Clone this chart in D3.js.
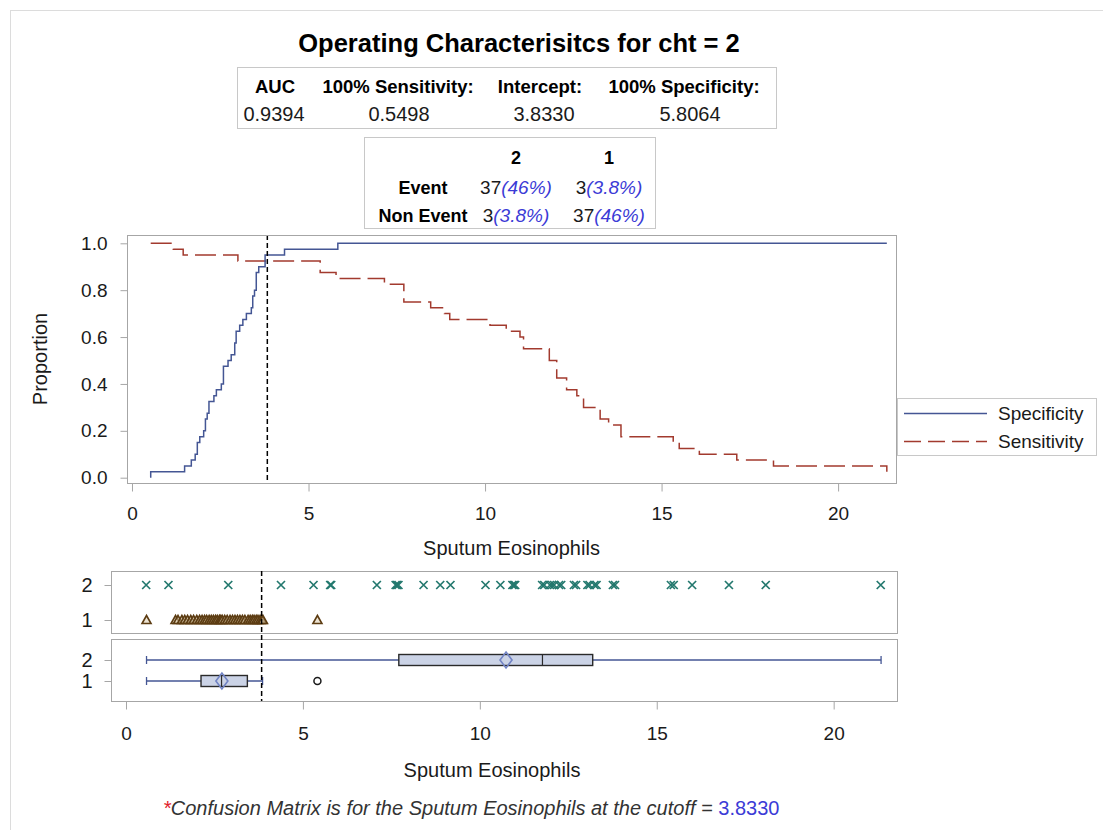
<!DOCTYPE html>
<html><head><meta charset="utf-8">
<script src="https://cdn.jsdelivr.net/npm/d3@7"></script>
<style>
body{margin:0;background:#fff}
svg{display:block}
text{font-family:"Liberation Sans",Arial,Helvetica,sans-serif}
</style>
</head><body>
<svg id="chart" width="1103" height="830"></svg>
<script>
// ---------------- data ----------------
const titleText = "Operating Characterisitcs for cht = 2";
const statHeaders = ["AUC", "100% Sensitivity:", "Intercept:", "100% Specificity:"];
const statValues = ["0.9394", "0.5498", "3.8330", "5.8064"];
const cmCols = ["2", "1"];
const cmRows = ["Event", "Non Event"];
const cmCounts = [[37, 3], [3, 37]];
const cmPct = [["46%", "3.8%"], ["3.8%", "46%"]];
const cutoff = 3.833;

// Specificity step curve (threshold, proportion)
const specX = [0.53, 0.53, 1.49, 1.68, 1.79, 1.85, 1.92, 2.03, 2.08, 2.13, 2.18, 2.32, 2.39, 2.53, 2.59, 2.72, 2.81, 2.91, 2.95, 3.05, 3.14, 3.24, 3.38, 3.42, 3.47, 3.52, 3.59, 3.77, 4.32, 5.83, 21.38];
const specY = [0, 0.025, 0.05, 0.075, 0.1, 0.15, 0.175, 0.2, 0.25, 0.275, 0.325, 0.35, 0.375, 0.4, 0.475, 0.5, 0.525, 0.575, 0.625, 0.65, 0.675, 0.7, 0.725, 0.775, 0.8, 0.875, 0.9, 0.95, 0.975, 1.0, 1.0];
// Sensitivity step curve
const sensX = [0.53, 1.17, 1.45, 3.0, 5.33, 5.78, 7.15, 7.7, 8.46, 8.85, 9.0, 10.14, 10.6, 10.99, 11.09, 11.82, 12.03, 12.31, 12.6, 12.79, 13.26, 13.5, 13.85, 15.33, 15.5, 16.07, 17.13, 18.17, 21.38, 21.38];
const sensY = [1.0, 0.975, 0.95, 0.925, 0.875, 0.85, 0.825, 0.75, 0.725, 0.7, 0.675, 0.65, 0.625, 0.6, 0.55, 0.5, 0.425, 0.375, 0.35, 0.3, 0.25, 0.225, 0.175, 0.15, 0.125, 0.1, 0.075, 0.05, 0.05, 0.025];

// Individual observations (Sputum Eosinophils) by cht group
const group2Values = [0.57, 1.20, 2.89, 4.38, 5.30, 5.77, 5.80, 7.09, 7.62, 7.66, 7.70, 8.41, 8.88, 9.17, 10.16, 10.58, 10.92, 10.96, 11.00, 11.76, 11.82, 11.98, 12.04, 12.10, 12.24, 12.30, 12.66, 12.72, 13.04, 13.10, 13.24, 13.30, 13.76, 13.82, 15.40, 15.48, 16.00, 17.04, 18.08, 21.33];
const group1Values = [0.58, 1.40, 1.47, 1.58, 1.66, 1.74, 1.83, 1.91, 2.00, 2.08, 2.15, 2.22, 2.28, 2.35, 2.41, 2.47, 2.53, 2.58, 2.64, 2.68, 2.72, 2.79, 2.86, 2.94, 3.01, 3.08, 3.15, 3.22, 3.29, 3.36, 3.45, 3.51, 3.57, 3.62, 3.68, 3.73, 3.79, 3.84, 3.87, 5.41];

// Box plot statistics per group
const boxGroups = ["2", "1"];
const boxLow = [0.58, 0.58];
const boxQ1 = [7.71, 2.12];
const boxMedian = [11.77, 2.70];
const boxQ3 = [13.19, 3.43];
const boxHigh = [21.34, 3.86];
const boxMean = [10.74, 2.71];
const boxOutliers = [[], [5.41]];

const xTicks = [0, 5, 10, 15, 20];
const yTicks = [0, 0.2, 0.4, 0.6, 0.8, 1.0];
const legendLabels = ["Specificity", "Sensitivity"];

// ---------------- drawing ----------------
const svg = d3.select("#chart");
const FONT = '"Liberation Sans", Arial, sans-serif';
const TXT = "#1a1a1a";
const FRAME = "#a6a6a6";
const BLUE = "#445694", RED = "#a23a2e", TEAL = "#23786e", BROWN = "#5c3c12";

svg.append("rect").attr("x", 10.5).attr("y", 10.5).attr("width", 1100).attr("height", 830)
  .attr("fill", "none").attr("stroke", "#dcdcdc");

// Title
svg.append("text").attr("x", 519).attr("y", 52).attr("text-anchor", "middle")
  .attr("font-size", 25.5).attr("font-weight", "bold").attr("fill", "#000").text(titleText);

// Stats table
svg.append("rect").attr("x", 237.5).attr("y", 67.5).attr("width", 539).attr("height", 61)
  .attr("fill", "#fff").attr("stroke", "#c8c8c8");
const headX = [275, 398, 540, 684];
const valX = [274, 399, 544, 690];
svg.selectAll("text.sh").data(statHeaders).join("text").attr("class", "sh")
  .attr("x", (d, i) => headX[i]).attr("y", 93).attr("text-anchor", "middle")
  .attr("font-size", 18.5).attr("font-weight", "bold").attr("fill", "#000").text(d => d);
svg.selectAll("text.sv").data(statValues).join("text").attr("class", "sv")
  .attr("x", (d, i) => valX[i]).attr("y", 121).attr("text-anchor", "middle")
  .attr("font-size", 20).attr("fill", TXT).text(d => d);

// Confusion matrix table
svg.append("rect").attr("x", 364.5).attr("y", 137.5).attr("width", 291).attr("height", 91)
  .attr("fill", "#fff").attr("stroke", "#c8c8c8");
const cmColX = [516, 609];
const cmRowY = [194, 222];
svg.selectAll("text.cmh").data(cmCols).join("text").attr("class", "cmh")
  .attr("x", (d, i) => cmColX[i]).attr("y", 164).attr("text-anchor", "middle")
  .attr("font-size", 18).attr("font-weight", "bold").attr("fill", "#000").text(d => d);
svg.selectAll("text.cmr").data(cmRows).join("text").attr("class", "cmr")
  .attr("x", 423).attr("y", (d, i) => cmRowY[i]).attr("text-anchor", "middle")
  .attr("font-size", 18).attr("font-weight", "bold").attr("fill", "#000").text(d => d);
cmRows.forEach((r, i) => {
  cmCols.forEach((c, j) => {
    const t = svg.append("text").attr("x", cmColX[j]).attr("y", cmRowY[i]).attr("text-anchor", "middle")
      .attr("font-size", 19).attr("fill", TXT);
    t.append("tspan").text(cmCounts[i][j]);
    t.append("tspan").attr("fill", "#3b3bd6").attr("font-style", "italic").text("(" + cmPct[i][j] + ")");
  });
});

// ---------- main plot ----------
const mainL = 127, mainR = 896, mainT = 235, mainB = 483;
const xMain = d3.scaleLinear().domain([-0.1416, 21.64]).range([mainL, mainR]);
const yMain = d3.scaleLinear().domain([-0.0226, 1.0354]).range([mainB, mainT]);

svg.append("rect").attr("x", mainL + 0.5).attr("y", mainT + 0.5).attr("width", mainR - mainL).attr("height", mainB - mainT)
  .attr("fill", "none").attr("stroke", FRAME);

function styleAxis(g, fs) {
  g.select(".domain").remove();
  g.selectAll(".tick line").attr("stroke", FRAME);
  g.selectAll(".tick text").attr("fill", TXT).attr("font-size", fs).attr("font-family", FONT);
}

svg.append("g").attr("transform", `translate(0,${mainB + 0.5})`)
  .call(d3.axisBottom(xMain).tickValues(xTicks).tickSize(8).tickPadding(15).tickFormat(d3.format("d")))
  .call(g => styleAxis(g, 19));
svg.append("g").attr("transform", `translate(${mainL + 0.5},0)`)
  .call(d3.axisLeft(yMain).tickValues(yTicks).tickSize(7).tickPadding(13).tickFormat(d3.format(".1f")))
  .call(g => styleAxis(g, 19));

svg.append("defs").append("clipPath").attr("id", "clipMain").append("rect")
  .attr("x", mainL + 1).attr("y", mainT + 1).attr("width", mainR - mainL - 1).attr("height", mainB - mainT - 1);

const stepLine = d3.line().x(d => xMain(d[0])).y(d => yMain(d[1])).curve(d3.curveStepAfter);
const plotG = svg.append("g").attr("clip-path", "url(#clipMain)");
plotG.append("path").datum(d3.zip(sensX, sensY)).attr("d", stepLine)
  .attr("fill", "none").attr("stroke", RED).attr("stroke-width", 1.5).attr("stroke-dasharray", "21,7");
plotG.append("path").datum(d3.zip(specX, specY)).attr("d", stepLine)
  .attr("fill", "none").attr("stroke", BLUE).attr("stroke-width", 1.5);
plotG.append("line").attr("x1", xMain(cutoff)).attr("x2", xMain(cutoff)).attr("y1", mainT).attr("y2", mainB)
  .attr("stroke", "#000").attr("stroke-width", 1.5).attr("stroke-dasharray", "5,3");

svg.append("text").attr("transform", `translate(47,${(mainT + mainB) / 2}) rotate(-90)`)
  .attr("text-anchor", "middle").attr("font-size", 20).attr("fill", TXT).text("Proportion");
svg.append("text").attr("x", (mainL + mainR) / 2).attr("y", 555).attr("text-anchor", "middle")
  .attr("font-size", 20).attr("fill", TXT).text("Sputum Eosinophils");

// Legend
const lg = svg.append("g");
lg.append("rect").attr("x", 897.5).attr("y", 398.5).attr("width", 199).attr("height", 57)
  .attr("fill", "#fff").attr("stroke", "#c8c8c8");
const legY = [413, 441];
const legStyle = [{ c: BLUE, d: null }, { c: RED, d: "17,7" }];
legendLabels.forEach((lab, i) => {
  const ln = lg.append("line").attr("x1", 904).attr("x2", 987).attr("y1", legY[i] + 0.5).attr("y2", legY[i] + 0.5)
    .attr("stroke", legStyle[i].c).attr("stroke-width", 1.5);
  if (legStyle[i].d) ln.attr("stroke-dasharray", legStyle[i].d);
  lg.append("text").attr("x", 998).attr("y", legY[i] + 7).attr("font-size", 19).attr("fill", TXT).text(lab);
});

// ---------- lower panels ----------
const lowL = 111, lowR = 897;
const xLow = d3.scaleLinear().domain([-0.424, 21.79]).range([lowL, lowR]);
const stripT = 571, stripB = 633, boxT = 639, boxB = 701;
const yStrip = d3.scalePoint().domain(boxGroups).range([585, 620]);
const yBox = d3.scalePoint().domain(boxGroups).range([660, 681]);

[[stripT, stripB], [boxT, boxB]].forEach(([t, b]) => {
  svg.append("rect").attr("x", lowL + 0.5).attr("y", t + 0.5).attr("width", lowR - lowL).attr("height", b - t)
    .attr("fill", "none").attr("stroke", FRAME);
});

svg.append("g").attr("transform", `translate(${lowL + 0.5},0)`)
  .call(d3.axisLeft(yStrip).tickSize(7).tickPadding(12)).call(g => styleAxis(g, 20));
svg.append("g").attr("transform", `translate(${lowL + 0.5},0)`)
  .call(d3.axisLeft(yBox).tickSize(7).tickPadding(12)).call(g => styleAxis(g, 20));
svg.append("g").attr("transform", `translate(0,${boxB + 0.5})`)
  .call(d3.axisBottom(xLow).tickValues(xTicks).tickSize(8).tickPadding(17).tickFormat(d3.format("d")))
  .call(g => styleAxis(g, 19));

// strip markers
const xs = 4;
svg.append("g").selectAll("path").data(group2Values).join("path")
  .attr("d", d => { const x = xLow(d), y = yStrip("2"); return `M${x - xs},${y - xs}L${x + xs},${y + xs}M${x - xs},${y + xs}L${x + xs},${y - xs}`; })
  .attr("stroke", TEAL).attr("stroke-width", 1.7).attr("fill", "none");
svg.append("g").selectAll("path").data(group1Values).join("path")
  .attr("d", d => { const x = xLow(d), y = yStrip("1"); return `M${x},${y - 4.5}L${x + 4.5},${y + 3.5}L${x - 4.5},${y + 3.5}Z`; })
  .attr("stroke", BROWN).attr("stroke-width", 1.6).attr("fill", "#d9c7a6").attr("fill-opacity", 0.5);

// box plots
const bh = 11;
boxGroups.forEach((g, i) => {
  const y = yBox(g);
  const bg = svg.append("g");
  bg.append("line").attr("x1", xLow(boxLow[i])).attr("x2", xLow(boxHigh[i])).attr("y1", y).attr("y2", y)
    .attr("stroke", BLUE).attr("stroke-width", 1.3);
  [boxLow[i], boxHigh[i]].forEach(v => bg.append("line").attr("x1", xLow(v)).attr("x2", xLow(v))
    .attr("y1", y - 4).attr("y2", y + 4).attr("stroke", BLUE).attr("stroke-width", 1.3));
  bg.append("rect").attr("x", xLow(boxQ1[i])).attr("y", y - bh / 2).attr("width", xLow(boxQ3[i]) - xLow(boxQ1[i])).attr("height", bh)
    .attr("fill", "#cbd3e6").attr("stroke", "#2a2a2a").attr("stroke-width", 1.4);
  bg.append("line").attr("x1", xLow(boxMedian[i])).attr("x2", xLow(boxMedian[i])).attr("y1", y - bh / 2).attr("y2", y + bh / 2)
    .attr("stroke", "#2a2a2a").attr("stroke-width", 1.2);
  const mx = xLow(boxMean[i]);
  bg.append("path").attr("d", `M${mx},${y - 8}L${mx + 6},${y}L${mx},${y + 8}L${mx - 6},${y}Z`)
    .attr("fill", "none").attr("stroke", "#7183c4").attr("stroke-width", 1.6);
  bg.selectAll("circle").data(boxOutliers[i]).join("circle").attr("cx", d => xLow(d)).attr("cy", y).attr("r", 3.5)
    .attr("fill", "none").attr("stroke", "#1a1a1a").attr("stroke-width", 1.5);
});

svg.append("line").attr("x1", xLow(cutoff)).attr("x2", xLow(cutoff)).attr("y1", stripT).attr("y2", boxB)
  .attr("stroke", "#000").attr("stroke-width", 1.5).attr("stroke-dasharray", "5,3");

svg.append("text").attr("x", 492).attr("y", 777).attr("text-anchor", "middle")
  .attr("font-size", 20).attr("fill", TXT).text("Sputum Eosinophils");

// footnote
const fn = svg.append("text").attr("x", 163).attr("y", 815).attr("text-anchor", "start").attr("font-size", 20);
fn.append("tspan").attr("fill", "#e0202a").attr("font-style", "italic").text("*");
fn.append("tspan").attr("fill", "#333").attr("font-style", "italic").text("Confusion Matrix is for the Sputum Eosinophils at the cutoff = ");
fn.append("tspan").attr("fill", "#3b3bd6").text("3.8330");
</script>
</body></html>
